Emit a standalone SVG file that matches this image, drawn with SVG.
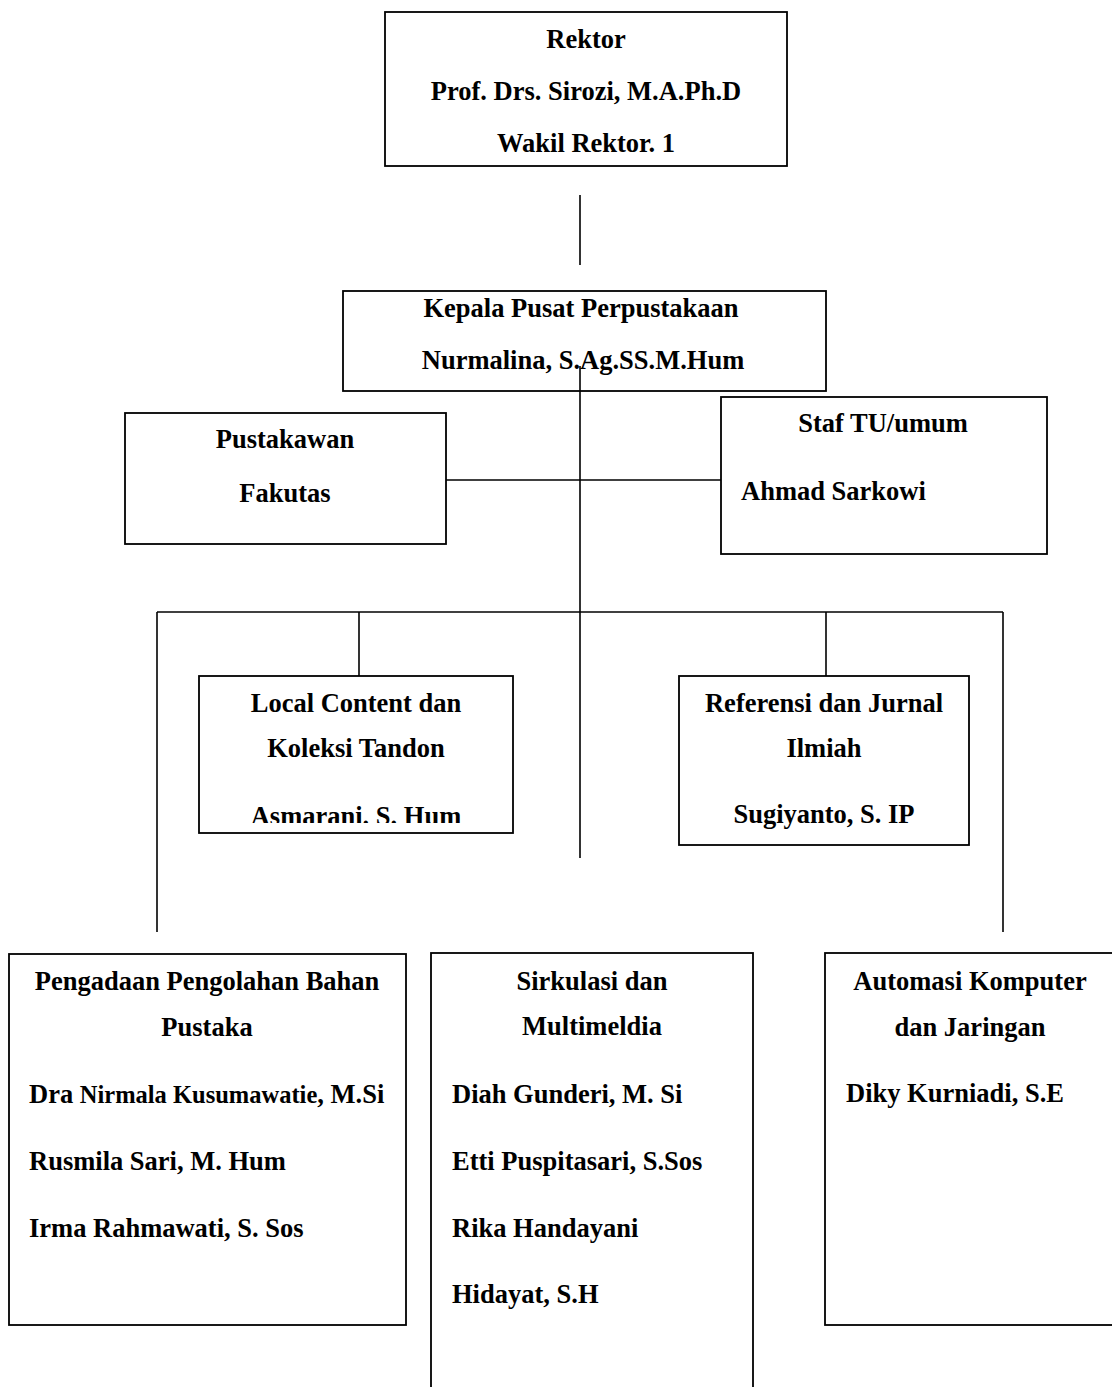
<svg xmlns="http://www.w3.org/2000/svg" width="1112" height="1387" viewBox="0 0 1112 1387">
<style>
.box{fill:#fff;stroke:#000;stroke-width:1.8}
.ln{stroke:#000;stroke-width:1.6;fill:none}
text{font-family:"Liberation Serif","Times New Roman",serif;font-weight:bold;font-size:26.5px;fill:#000}
.c{text-anchor:middle}
</style>
<defs>
<clipPath id="clipLocal"><rect x="199" y="676" width="314" height="147"/></clipPath>
</defs>
<rect x="0" y="0" width="1112" height="1387" fill="#fff"/>
<g id="rektor">
<rect class="box" x="385" y="12" width="402" height="154"/>
<text class="c" x="586" y="48">Rektor</text>
<text class="c" x="586" y="100">Prof. Drs. Sirozi, M.A.Ph.D</text>
<text class="c" x="586" y="152">Wakil Rektor. 1</text>
</g>
<g id="kepala">
<rect class="box" x="343" y="291" width="483" height="100"/>
<text class="c" x="581" y="317">Kepala Pusat Perpustakaan</text>
<text class="c" x="583" y="369">Nurmalina, S.Ag.SS.M.Hum</text>
</g>
<g id="pustakawan">
<rect class="box" x="125" y="413" width="321" height="131"/>
<text class="c" x="285" y="448">Pustakawan</text>
<text class="c" x="285" y="502">Fakutas</text>
</g>
<g id="staf">
<rect class="box" x="721" y="397" width="326" height="157"/>
<text class="c" x="883" y="432">Staf TU/umum</text>
<text x="741" y="500">Ahmad Sarkowi</text>
</g>
<g id="connectors">
<line class="ln" x1="580" y1="195" x2="580" y2="265"/>
<line class="ln" x1="580" y1="366" x2="580" y2="858"/>
<line class="ln" x1="446" y1="480" x2="721" y2="480"/>
<line class="ln" x1="157" y1="612" x2="1003" y2="612"/>
<line class="ln" x1="157" y1="612" x2="157" y2="932"/>
<line class="ln" x1="1003" y1="612" x2="1003" y2="932"/>
<line class="ln" x1="359" y1="612" x2="359" y2="676"/>
<line class="ln" x1="826" y1="612" x2="826" y2="676"/>
</g>
<g id="local">
<rect class="box" x="199" y="676" width="314" height="157"/>
<text class="c" x="356" y="712">Local Content dan</text>
<text class="c" x="356" y="757">Koleksi Tandon</text>
<text class="c" x="356" y="825" clip-path="url(#clipLocal)">Asmarani. S. Hum</text>
</g>
<g id="referensi">
<rect class="box" x="679" y="676" width="290" height="169"/>
<text class="c" x="824" y="712">Referensi dan Jurnal</text>
<text class="c" x="824" y="757">Ilmiah</text>
<text class="c" x="824" y="823">Sugiyanto, S. IP</text>
</g>
<g id="pengadaan">
<rect class="box" x="9" y="954" width="397" height="371"/>
<text class="c" x="207" y="990">Pengadaan Pengolahan Bahan</text>
<text class="c" x="207" y="1036">Pustaka</text>
<text x="29" y="1103">Dra <tspan style="font-size:24.5px">Nirmala Kusumawatie</tspan>, M.Si</text>
<text x="29" y="1170">Rusmila Sari, M. Hum</text>
<text x="29" y="1237">Irma Rahmawati, S. Sos</text>
</g>
<g id="sirkulasi">
<rect class="box" x="431" y="953" width="322" height="460"/>
<text class="c" x="592" y="990">Sirkulasi dan</text>
<text class="c" x="592" y="1035">Multimeldia</text>
<text x="452" y="1103">Diah Gunderi, M. Si</text>
<text x="452" y="1170">Etti Puspitasari, S.Sos</text>
<text x="452" y="1237">Rika Handayani</text>
<text x="452" y="1303">Hidayat, S.H</text>
</g>
<g id="automasi">
<rect class="box" x="825" y="953" width="310" height="372"/>
<text class="c" x="970" y="990">Automasi Komputer</text>
<text class="c" x="970" y="1036">dan Jaringan</text>
<text x="846" y="1102">Diky Kurniadi, S.E</text>
</g>
</svg>
